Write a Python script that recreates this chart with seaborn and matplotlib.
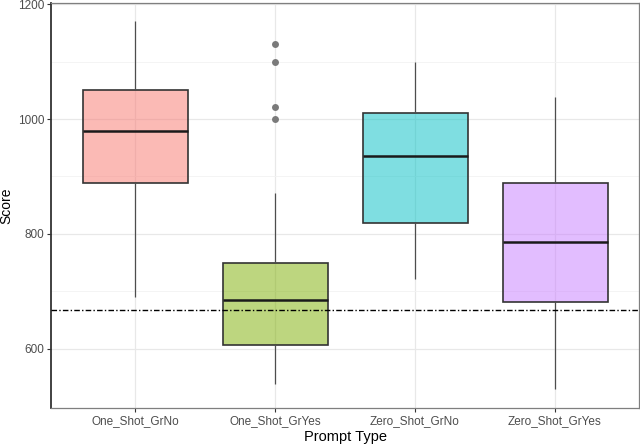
import matplotlib.pyplot as plt
import pandas as pd
import seaborn as sns
from matplotlib.colors import to_rgba

# Valores: min, Q1, mediana, Q3, max (bigodes) por grupo
categorias = ["One_Shot_GrNo", "One_Shot_GrYes", "Zero_Shot_GrNo", "Zero_Shot_GrYes"]
resumo_one_no = [691, 888, 980, 1050, 1170]
resumo_one_yes = [539, 606, 685, 749, 872]
resumo_zero_no = [722, 819, 936, 1010, 1100]
resumo_zero_yes = [530, 682, 786, 889, 1039]
outliers_cat = ["One_Shot_GrYes", "One_Shot_GrYes", "One_Shot_GrYes", "One_Shot_GrYes"]
outliers_val = [1130, 1099, 1021, 1000]
linha_ref = 668
cores_base = ["#F8766D", "#7CAE00", "#00BFC4", "#C77CFF"]

sns.set_theme(style="whitegrid")
plt.rcParams["font.family"] = ["Liberation Sans", "DejaVu Sans"]

paleta = dict(zip(categorias, cores_base))

df = pd.DataFrame(
    {
        "Prompt Type": [c for c in categorias for _ in range(5)],
        "Score": resumo_one_no + resumo_one_yes + resumo_zero_no + resumo_zero_yes,
    }
)
df_out = pd.DataFrame({"Prompt Type": outliers_cat, "Score": outliers_val})

fig = plt.figure(figsize=(6.4, 4.46), dpi=100)
ax = fig.add_axes([51 / 640, 38 / 446, 588 / 640, 405 / 446])

sns.boxplot(
    data=df,
    x="Prompt Type",
    y="Score",
    hue="Prompt Type",
    order=categorias,
    palette=paleta,
    legend=False,
    width=0.75,
    whis=(0, 100),
    showfliers=False,
    saturation=1,
    linecolor="#333333",
    linewidth=1.2,
    medianprops={"color": "#1a1a1a", "linewidth": 1.8},
    whiskerprops={"color": "#4d4d4d", "linewidth": 0.9},
    capprops={"visible": False},
    ax=ax,
)

# preenchimento semi-transparente (alpha = 0.5), como no original
for patch in ax.patches:
    patch.set_facecolor(to_rgba(patch.get_facecolor(), 0.5))

sns.stripplot(
    data=df_out,
    x="Prompt Type",
    y="Score",
    order=categorias,
    jitter=False,
    color="#7a7a7a",
    size=5,
    linewidth=0,
    ax=ax,
    zorder=3,
)

ax.axhline(linha_ref, color="black", lw=1.0, ls=(0, (4, 1.6, 1, 1.6)), zorder=4)

ax.set_xlim(-0.6, 3.6)
ax.set_ylim(497, 1202)
ax.set_yticks([600, 800, 1000, 1200])
ax.set_yticks([700, 900, 1100], minor=True)
ax.grid(True, which="major", color="#e8e8e8", lw=0.9)
ax.grid(True, which="minor", axis="y", color="#f2f2f2", lw=0.6)
ax.set_axisbelow(True)

for lado, sp in ax.spines.items():
    sp.set_visible(True)
    sp.set_color("#333333" if lado == "left" else "#7f7f7f")
    sp.set_linewidth(1.3 if lado == "left" else 0.9)

ax.tick_params(axis="both", which="major", length=3, width=0.8, color="#333333",
               labelsize=8.5, labelcolor="#4d4d4d", pad=2, left=True, bottom=True)
ax.tick_params(axis="y", which="minor", length=0)
ax.set_xlabel("Prompt Type", fontsize=10.5, color="black", labelpad=2)
ax.set_ylabel("Score", fontsize=10, color="black", labelpad=3)

fig.savefig("out.png", dpi=100)
